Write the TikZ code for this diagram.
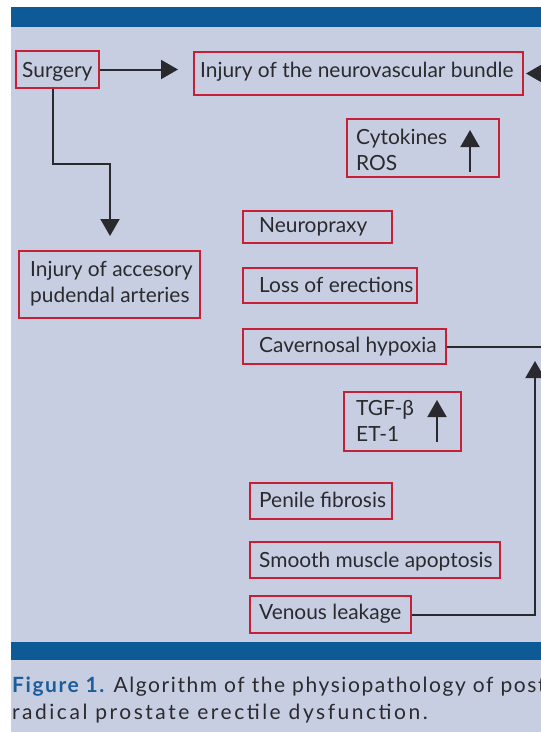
\documentclass[tikz,border=0pt]{standalone}
\usepackage{fontspec}
\setmainfont{Lato}
\newfontfamily\capfontA[LetterSpace=7.5]{Lato}
\newfontfamily\capfontB[LetterSpace=12]{Lato}
\usetikzlibrary{arrows.meta}
\definecolor{panel}{HTML}{C8CEE2}
\definecolor{band}{HTML}{0E5A96}
\definecolor{boxred}{HTML}{C61F36}
\definecolor{ink}{HTML}{2A2A2E}
\definecolor{capblue}{HTML}{1B5E99}
\tikzset{
  box/.style={draw=boxred, line width=2pt, inner sep=0pt},
  txt/.style={anchor=base west, inner sep=0pt, text=ink, font=\fontsize{20.9}{26}\selectfont},
  conn/.style={draw=ink, line width=2pt},
  arr/.style={conn, -{Triangle[length=17pt,width=19pt]}},
  caption/.style={anchor=base west, inner sep=0pt, text=ink}
}
\begin{document}
\begin{tikzpicture}[x=1pt,y=-1pt]
\useasboundingbox (0,0) rectangle (541,732);
\begin{scope}
\clip (0,0) rectangle (541,732);
\fill[white] (0,0) rectangle (541,732);
\fill[panel] (11,7) rectangle (560,740);
\fill[band] (11,7) rectangle (560,27);
\fill[band] (11,642) rectangle (560,660);

% boxes
\node[box, minimum width=83pt, minimum height=37pt] (surgery) at (57.5,69.5) {};
\node[box, minimum width=329pt, minimum height=43pt] (nvb) at (358.5,73.5) {};
\node[box, minimum width=152pt, minimum height=58pt] (cyto) at (423,148) {};
\node[box, minimum width=181pt, minimum height=67pt] (acc) at (109.5,284.5) {};
\node[box, minimum width=149pt, minimum height=32pt] (neuro) at (317.5,227) {};
\node[box, minimum width=174pt, minimum height=35pt] (loss) at (330,285.5) {};
\node[box, minimum width=203pt, minimum height=35pt] (cav) at (344.5,346.5) {};
\node[box, minimum width=117pt, minimum height=59pt] (tgf) at (402.5,421.5) {};
\node[box, minimum width=142pt, minimum height=36pt] (penile) at (321,501) {};
\node[box, minimum width=250pt, minimum height=36pt] (smooth) at (375,560) {};
\node[box, minimum width=161pt, minimum height=37pt] (venous) at (330.5,614.5) {};

% texts
\node[txt] (surgery-t) at (22,77) {Surgery};
\node[txt] (nvb-t) at (200,77) {Injury of the neurovascular bundle};
\node[txt] (cyto-t1) at (356,144) {Cytokines};
\node[txt] (cyto-t2) at (356,170) {ROS};
\node[txt] (acc-t1) at (30,276) {Injury of accesory};
\node[txt] (acc-t2) at (30,302) {pudendal arteries};
\node[txt] (neuro-t) at (259,232) {Neuropraxy};
\node[txt] (loss-t) at (259,292) {Loss of erections};
\node[txt] (cav-t) at (259,352) {Cavernosal hypoxia};
\node[txt] (tgf-t1) at (356,415) {TGF-β};
\node[txt] (tgf-t2) at (356,441) {ET-1};
\node[txt] (penile-t) at (259,507) {Penile fibrosis};
\node[txt] (smooth-t) at (259,567) {Smooth muscle apoptosis};
\node[txt] (venous-t) at (259,619) {Venous leakage};

% coordinates
\coordinate (c1) at (53,164);
\coordinate (c2) at (110,164);
\coordinate (rightin) at (570,73.5);
\coordinate (cavout) at (570,346.5);
\coordinate (vl) at (535,614.5);
\coordinate (vtip) at (535,361);
\coordinate (cytoA) at (470,172);
\coordinate (cytoB) at (470,130);
\coordinate (tgfA) at (437,442);
\coordinate (tgfB) at (437,400);

% connectors
\draw[arr, shorten >=15pt] (surgery.east) -- (surgery.east -| nvb.west);
\draw[arr, shorten >=2pt] (rightin) -- (nvb.east);
\draw[arr, shorten >=14pt] (surgery.south -| c1) -- (c1) -- (c2) -- (acc.north -| c2);
\draw[conn] (cav.east) -- (cavout);
\draw[arr] (venous.east) -- (vl) -- (vtip);
\draw[arr] (cytoA) -- (cytoB);
\draw[arr] (tgfA) -- (tgfB);

% caption
\node[caption, font=\capfontA\fontsize{21}{27}\selectfont] (cap1) at (12,692) {\textcolor{capblue}{\bfseries Figure 1.} Algorithm of the physiopathology of post-};
\node[caption, font=\capfontB\fontsize{21}{27}\selectfont] (cap2) at (12,719) {radical prostate erectile dysfunction.};
\end{scope}
\end{tikzpicture}
\end{document}
